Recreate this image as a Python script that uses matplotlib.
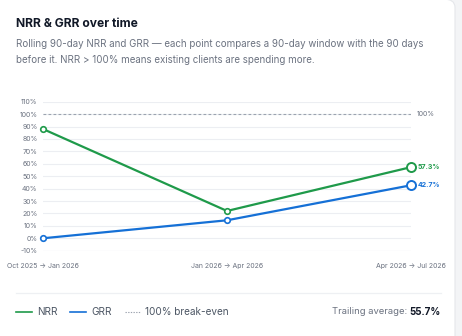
import matplotlib
matplotlib.use("Agg")
import matplotlib.pyplot as plt
from matplotlib.patches import FancyBboxPatch
from matplotlib.lines import Line2D

periods = ["Oct 2025 → Jan 2026", "Jan 2026 → Apr 2026", "Apr 2026 → Jul 2026"]
nrr = [88.0, 22.0, 57.3]
grr = [0.0, 14.5, 42.7]
yticks = [-10, 0, 10, 20, 30, 40, 50, 60, 70, 80, 90, 100, 110]
breakeven = 100
trailing_avg = "55.7%"

W, H = 462, 336
plt.rcParams['font.family'] = ['Inter', 'DejaVu Sans']

fig = plt.figure(figsize=(W/100, H/100), dpi=100)
fig.patch.set_facecolor("#f3f4f6")

def fx(x): return x / W
def fy(y): return 1 - y / H

card = FancyBboxPatch((fx(-20), fy(350)), fx(455) - fx(-20), fy(-1) - fy(350),
                      boxstyle="round,pad=0,rounding_size=0.025",
                      transform=fig.transFigure, facecolor="white",
                      edgecolor="#e5e7eb", linewidth=0.8, zorder=-5)
fig.patches.append(card)

GREEN = "#1f9a4a"
BLUE = "#1570d6"
DARK = "#111827"

fig.text(fx(16), fy(24), "NRR & GRR over time", fontsize=8.7, fontweight="bold",
         color=DARK, va="center", ha="left")
fig.text(fx(16), fy(44), "Rolling 90-day NRR and GRR — each point compares a 90-day window with the 90 days",
         fontsize=7.0, color="#6b7280", va="center", ha="left")
fig.text(fx(16), fy(60), "before it. NRR > 100% means existing clients are spending more.",
         fontsize=7.0, color="#6b7280", va="center", ha="left")

ax = fig.add_axes([fx(43), fy(250.7), fx(411) - fx(43), fy(101.7) - fy(250.7)])
ax.set_facecolor("none")
ax.set_zorder(2)
x = list(range(len(periods)))
ax.set_xlim(0, len(periods) - 1)
ax.set_ylim(yticks[0], yticks[-1])
ax.set_yticks(yticks)
ax.set_yticklabels([f"{v}%" for v in yticks])
ax.set_xticks(x)
ax.set_xticklabels(periods)
for s in ax.spines.values():
    s.set_visible(False)
ax.tick_params(axis="both", length=0, labelsize=5.0, labelcolor="#6b7280")
ax.tick_params(axis="y", pad=4)
ax.tick_params(axis="x", pad=9)
for v in yticks:
    ax.axhline(v, color="#d1d5db" if v == yticks[0] else "#eceef2", linewidth=0.8, zorder=0)
ax.axhline(breakeven, color="#9ca3af", linewidth=0.8, linestyle=(0, (2.5, 2)), zorder=1)
ax.annotate(f"{breakeven}%", (x[-1], breakeven), xytext=(4, 0), textcoords="offset points",
            fontsize=5.0, color="#6b7280", va="center", ha="left", annotation_clip=False)

for data, col in [(nrr, GREEN), (grr, BLUE)]:
    ax.plot(x, data, color=col, linewidth=1.6, zorder=3, clip_on=False)
    ax.plot(x[:-1], data[:-1], linestyle="none", marker="o", markersize=4,
            markerfacecolor="white", markeredgecolor=col, markeredgewidth=1.2, zorder=4, clip_on=False)
    ax.plot(x[-1:], data[-1:], linestyle="none", marker="o", markersize=6.5,
            markerfacecolor="white", markeredgecolor=col, markeredgewidth=1.4, zorder=4, clip_on=False)
    ax.annotate(f"{data[-1]:.1f}%", (x[-1], data[-1]), xytext=(5, 0), textcoords="offset points",
                fontsize=5.0, color=col, fontweight="bold", va="center", ha="left",
                annotation_clip=False)

# separator
fig.add_artist(Line2D([fx(16), fx(441)], [fy(293), fy(293)], color="#eef0f3", linewidth=0.9))

# legend
ly = fy(312)
fig.add_artist(Line2D([fx(16), fx(32)], [ly, ly], color=GREEN, linewidth=1.2))
fig.text(fx(37), ly, "NRR", fontsize=7.2, color="#4b5563", va="center", ha="left")
fig.add_artist(Line2D([fx(70), fx(86)], [ly, ly], color=BLUE, linewidth=1.2))
fig.text(fx(91), ly, "GRR", fontsize=7.2, color="#4b5563", va="center", ha="left")
fig.add_artist(Line2D([fx(125), fx(140)], [ly, ly], color="#9ca3af", linewidth=0.8, linestyle=(0, (1.2, 1.2))))
fig.text(fx(145), ly, "100% break-even", fontsize=7.2, color="#4b5563", va="center", ha="left")

t2 = fig.text(fx(441), ly, trailing_avg, fontsize=7.0, fontweight="bold", color=DARK,
              va="center", ha="right")
fig.canvas.draw()
bb = t2.get_window_extent()
fig.text(bb.x0 / fig.bbox.width - fx(2.5), ly, "Trailing average:", fontsize=6.8, color="#6b7280",
         va="center", ha="right")

fig.savefig("out.png", dpi=100, facecolor=fig.get_facecolor())
